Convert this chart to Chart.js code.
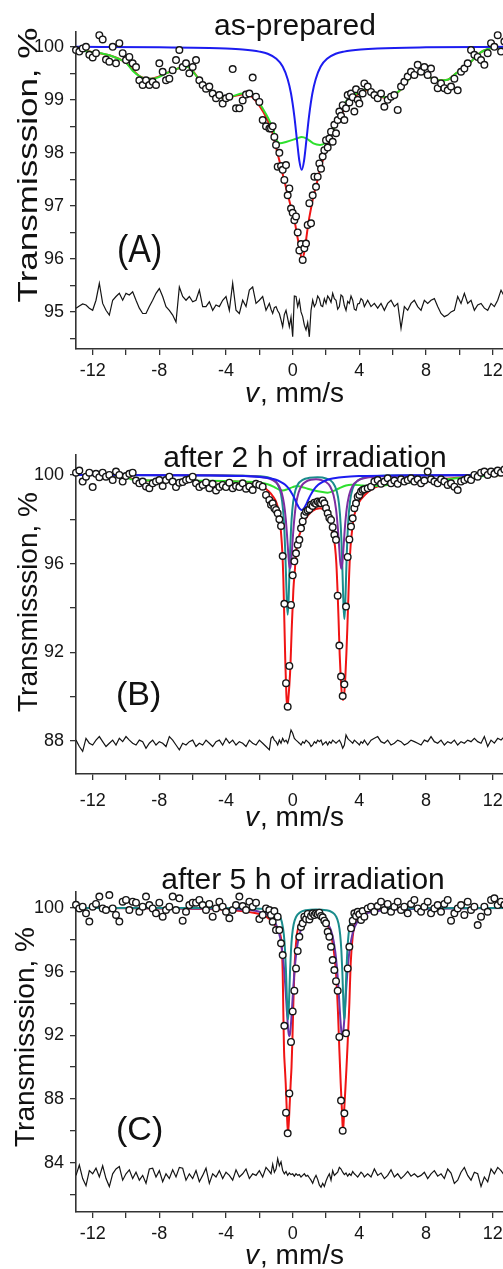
<!DOCTYPE html>
<html><head><meta charset="utf-8">
<script src="https://cdn.jsdelivr.net/npm/chart.js@4.4.1/dist/chart.umd.min.js"></script>
<style>
html,body{margin:0;padding:0;background:#fff;}
#wrap{position:relative;width:503px;height:1269px;overflow:hidden;background:#fff;}
canvas{position:absolute;left:0;}
</style></head><body>
<div id="wrap">
<canvas id="cA" width="540" height="420" style="top:0px"></canvas>
<canvas id="cB" width="540" height="420" style="top:420px"></canvas>
<canvas id="cC" width="540" height="429" style="top:840px"></canvas>
</div>
<script>
// ---- velocity channels (mm/s) ----
const VELOCITY = [
-13,-12.8,-12.6,-12.4,-12.2,-12,-11.8,-11.6,-11.4,-11.2,
-11,-10.8,-10.6,-10.4,-10.2,-10,-9.8,-9.6,-9.4,-9.2,
-9,-8.8,-8.6,-8.4,-8.2,-8,-7.8,-7.6,-7.4,-7.2,
-7,-6.8,-6.6,-6.4,-6.2,-6,-5.8,-5.6,-5.4,-5.2,
-5,-4.8,-4.6,-4.4,-4.2,-4,-3.8,-3.6,-3.4,-3.2,
-3,-2.8,-2.6,-2.4,-2.2,-2,-1.8,-1.6,-1.4,
-1.3,-1.2,-1.1,-1,-0.9,-0.8,-0.7,-0.6,-0.5,-0.4,
-0.3,-0.2,-0.1,0,0.1,0.2,0.3,0.4,0.5,0.6,
0.7,0.8,0.9,1,1.1,1.2,1.3,1.4,1.5,1.6,
1.7,1.8,1.9,2,2.1,2.2,2.3,2.4,2.5,2.6,
2.7,2.8,2.9,3,3.1,3.2,3.3,3.4,3.5,3.6,
3.7,3.8,3.9,4,4.1,4.2,4.3,
4.5,4.7,4.9,5.1,5.3,5.5,5.7,5.9,6.1,6.3,
6.5,6.7,6.9,7.1,7.3,7.5,7.7,7.9,8.1,8.3,
8.5,8.7,8.9,9.1,9.3,9.5,9.7,9.9,10.1,10.3,
10.5,10.7,10.9,11.1,11.3,11.5,11.7,11.9,12.1,12.3,
12.5,12.7,12.9];

// ---- panel A (as-prepared) ----
const TRANS_A = [
99.94,99.91,99.97,100.0,99.85,99.8,99.88,100.22,100.14,99.76,
99.72,100.0,99.69,100.07,99.88,99.75,99.81,99.69,99.62,99.37,
99.28,99.37,99.28,99.34,99.28,99.69,99.53,99.37,99.4,99.56,
99.75,99.94,99.62,99.69,99.5,99.62,99.75,99.37,99.28,99.21,
99.25,99.12,99.03,99.09,98.93,99.03,99.06,99.58,98.84,98.84,
98.99,99.1,99.12,99.42,99.06,98.96,98.62,98.5,98.46,
98.46,98.5,98.3,98.15,97.74,98.0,97.75,97.68,97.49,97.77,
97.2,97.33,96.95,96.87,96.73,96.8,96.5,96.16,96.28,95.98,
96.2,96.29,96.64,97.05,96.67,97.2,97.55,97.36,97.55,97.8,
97.7,97.93,98.05,98.24,98.1,98.27,98.4,98.21,98.53,98.37,
98.62,98.78,98.7,98.9,98.62,98.84,99.09,98.95,99.12,99.05,
98.78,99.2,99.0,98.93,99.15,99.12,99.31,
99.25,99.15,99.09,99.03,99.12,98.87,99.0,99.06,99.09,98.81,
99.25,99.34,99.44,99.53,99.47,99.66,99.53,99.62,99.47,99.59,
99.37,99.22,99.31,99.22,99.18,99.25,99.4,99.18,99.53,99.59,
99.69,99.94,99.85,99.81,99.75,99.66,99.88,100.07,100.0,100.22,
99.91,100.1,99.95];
const RESID_A = [
95.07,95.11,95.15,95.13,95.07,95.03,95.22,95.54,95.16,95.03,
94.94,95.22,95.29,95.35,95.22,95.35,95.32,95.38,95.22,95.07,
94.97,94.97,95.10,95.22,95.35,95.44,95.29,95.10,95.03,94.94,
94.81,95.47,95.29,95.22,95.29,95.19,95.22,95.41,95.10,95.10,
95.19,95.03,95.13,95.10,95.22,95.29,95.03,95.54,95.03,94.97,
95.22,95.10,95.41,95.47,95.16,95.22,95.29,95.03,95.16,
95.05,94.97,95.08,95.10,95.02,94.97,94.85,94.72,94.95,95.03,
94.88,94.72,94.9,94.53,95.3,95.29,95.1,95.22,95.0,94.91,
94.75,94.66,94.8,94.53,95.03,95.22,95.1,95.16,95.3,95.25,
95.12,95.10,95.25,95.16,95.3,95.25,95.18,95.35,95.25,95.22,
95.05,95.10,95.32,95.29,95.12,95.03,95.2,95.16,95.3,95.22,
95.05,95.03,95.15,95.16,95.25,95.22,95.1,
95.22,95.10,95.16,95.07,95.16,95.03,95.16,95.22,95.10,95.16,
94.69,95.10,95.03,95.16,95.22,95.10,95.03,95.22,95.16,95.22,
95.25,95.10,94.97,94.91,94.94,95.0,95.03,95.29,95.16,95.35,
95.16,95.22,95.03,95.13,95.16,95.07,95.03,95.16,95.10,95.22,
95.41,95.29,95.22];
const RED_A_V = [-13,-12,-11,-10,-9.2,-8.5,-7.6,-6.8,-6.3,-5.5,-4.6,-4.0,-3.5,-3.0,-2.46,-1.96,-1.56,-1.26,-1.06,-0.86,-0.66,-0.46,-0.26,-0.06,0.14,0.28,0.44,0.54,0.68,0.8,0.94,1.08,1.24,1.44,1.64,1.88,2.14,2.44,2.74,3.08,3.44,3.84,4.44,5.0,5.5,6.0,6.5,7.0,7.4,7.9,8.4,8.8,9.3,9.8,10.3,10.7,11.2,11.8,12.4,13];
const RED_A_T = [99.95,99.9,99.84,99.7,99.45,99.4,99.5,99.6,99.62,99.34,99.1,99.03,99.07,99.1,99.06,98.87,98.65,98.43,98.18,97.93,97.68,97.42,97.17,96.92,96.67,96.42,96.17,95.99,96.1,96.35,96.67,96.92,97.17,97.42,97.68,97.93,98.18,98.43,98.62,98.81,98.96,99.09,99.18,99.1,99.04,99.07,99.2,99.4,99.5,99.48,99.4,99.37,99.38,99.5,99.62,99.72,99.88,99.97,99.99,99.98];
const GREEN_A_V = [-13,-12.5,-12,-11.5,-11,-10.5,-10,-9.6,-9.2,-8.8,-8.2,-7.6,-7.2,-6.8,-6.3,-5.9,-5.5,-5.0,-4.6,-4.0,-3.5,-3.0,-2.5,-2.2,-1.86,-1.46,-1.16,-0.96,-0.76,-0.36,0.24,0.54,0.84,1.24,1.64,1.94,2.24,2.44,2.64,2.94,3.34,3.84,4.44,5.0,5.5,6.0,6.5,7.0,7.4,7.9,8.4,8.8,9.3,9.8,10.3,10.7,11.2,11.8,12.4,13];
const GREEN_A_T = [99.95,99.92,99.9,99.88,99.84,99.78,99.7,99.55,99.45,99.4,99.41,99.5,99.55,99.6,99.62,99.5,99.34,99.2,99.1,99.03,99.08,99.12,99.12,99.05,98.87,98.65,98.43,98.24,98.18,98.21,98.27,98.3,98.27,98.18,98.15,98.18,98.3,98.43,98.62,98.84,99.02,99.12,99.2,99.12,99.05,99.08,99.2,99.4,99.5,99.48,99.4,99.37,99.38,99.5,99.62,99.72,99.88,99.97,99.99,99.98];
const BLUE_A_V = [-13,-8,-5,-4,-3,-2,-1.5,-1.0,-0.6,-0.3,-0.1,0.1,0.25,0.4,0.54,0.68,0.83,0.98,1.18,1.38,1.68,2.08,2.58,3.08,4.08,5.08,8,13];
const BLUE_A_T = [100.0,99.99,99.98,99.97,99.95,99.91,99.87,99.78,99.63,99.39,99.12,98.69,98.26,97.85,97.68,97.85,98.26,98.69,99.12,99.39,99.63,99.78,99.87,99.91,99.95,99.97,99.99,100.0];

// ---- panel B (after 2 h) ----
const TRANS_B = [
100.1,100.2,99.7,99.92,100.1,99.45,100.05,99.9,100.1,99.92,
100.0,99.77,100.15,100.0,99.7,99.95,100.05,100.1,99.75,99.62,
99.7,99.48,99.4,99.62,99.7,99.77,99.5,99.77,99.92,99.7,
99.45,99.65,99.68,99.77,99.8,99.92,99.62,99.45,99.55,99.66,
99.4,99.6,99.3,99.45,99.55,99.45,99.65,99.4,99.5,99.45,
99.62,99.38,99.48,99.32,99.6,99.55,99.47,99.1,98.87,
98.65,98.72,98.5,98.42,98.27,98.0,97.7,96.34,94.18,90.6,
89.54,91.38,94.13,95.47,96.1,96.46,96.85,97.07,97.59,97.9,
98.19,98.34,98.4,98.45,98.65,98.6,98.75,98.7,98.8,98.75,
98.72,98.85,98.72,98.5,98.27,98.06,97.97,97.64,97.3,97.07,
94.55,92.3,90.9,90.02,90.55,94.06,96.3,97.09,97.67,98.04,
98.5,98.72,99.02,99.1,99.25,99.32,99.35,
99.4,99.47,99.7,99.77,99.6,99.7,99.85,99.62,99.75,99.6,
99.8,99.7,99.77,99.85,99.7,99.8,99.62,99.75,100.15,99.8,
99.7,99.62,99.8,99.7,99.55,99.62,99.47,99.32,99.7,99.77,
99.85,99.77,100.0,99.92,100.1,100.15,100.0,100.15,100.05,100.2,
100.1,100.25,100.1];
const RESID_B = [
88.03,87.74,87.52,88.11,87.89,87.81,88.03,88.19,87.96,87.74,
87.89,88.03,87.81,88.11,87.96,88.19,88.03,87.89,87.81,88.03,
87.96,87.66,87.89,88.03,87.81,87.96,87.89,87.74,88.19,88.03,
87.81,87.59,87.89,87.81,87.96,88.03,87.74,87.89,87.81,88.03,
87.89,87.74,87.96,88.03,87.81,88.11,87.89,88.03,87.81,87.96,
87.89,87.74,88.03,87.89,87.81,88.03,87.89,87.74,87.59,
88.11,88.19,88.03,87.96,87.81,88.03,87.89,88.11,87.96,88.03,
87.89,88.15,88.49,88.34,88.11,88.03,87.96,87.89,87.81,87.96,
87.89,88.03,87.96,87.89,87.74,87.81,87.96,87.89,88.03,87.96,
88.03,87.81,87.89,87.96,87.81,87.96,87.89,88.03,87.96,87.89,
87.96,88.03,87.89,87.66,87.81,88.26,88.11,88.03,87.96,87.89,
88.03,87.96,87.89,87.81,87.96,87.89,88.03,
87.81,88.03,88.11,88.19,87.96,87.89,88.03,87.81,87.89,88.03,
87.96,87.81,87.89,88.03,87.96,87.89,87.81,88.03,87.96,88.19,
87.96,87.89,88.03,87.81,87.96,87.89,88.03,87.81,87.96,87.89,
88.03,87.96,88.11,87.96,87.89,88.19,87.74,88.03,87.89,88.11,
88.03,88.19,88.11];
const RED_B_V = [-13,-11,-10,-9.6,-9,-8,-6,-4,-3,-2.2,-1.8,-1.5,-1.2,-0.96,-0.8,-0.7,-0.62,-0.56,-0.5,-0.44,-0.38,-0.32,-0.26,-0.2,-0.14,-0.06,0.04,0.14,0.24,0.44,0.74,1.14,1.64,2.0,2.24,2.4,2.54,2.62,2.7,2.76,2.82,2.88,2.95,3.02,3.09,3.16,3.22,3.28,3.35,3.44,3.55,3.64,3.8,3.94,4.34,4.84,5.2,6,7,8,9,10,11,12,13];
const RED_B_T = [100,99.97,99.92,99.82,99.76,99.74,99.73,99.72,99.68,99.6,99.48,99.3,99.05,98.72,98.2,97.4,96.5,95.3,93.4,91.5,90.1,89.44,89.9,90.5,91.3,93.0,94.8,95.8,96.76,97.37,97.97,98.35,98.5,98.35,97.97,97.4,96.76,96.0,94.6,93.3,91.9,90.9,90.1,89.84,90.1,90.9,91.9,93.1,94.7,96.4,97.4,97.97,98.45,98.72,99.1,99.4,99.5,99.6,99.68,99.75,99.8,99.88,99.95,99.98,100];
const GREEN_B_V = [-13,-10.5,-10,-9.7,-9,-8,-6,-4,-3,-2,-1.5,-1.1,-0.8,-0.6,-0.3,0,0.25,0.5,0.9,1.3,1.7,2.1,2.4,2.8,3.2,3.5,4,4.5,5,6,7,8,9,10,11,12,13];
const GREEN_B_T = [100,99.97,99.92,99.8,99.76,99.75,99.74,99.73,99.7,99.66,99.58,99.45,99.33,99.3,99.36,99.45,99.5,99.47,99.38,99.3,99.24,99.2,99.26,99.4,99.52,99.56,99.54,99.5,99.5,99.58,99.66,99.72,99.78,99.86,99.93,99.98,100];
const BLUE_B_V = [-13,-8,-5,-3,-2,-1.4,-1.0,-0.7,-0.45,-0.2,0,0.15,0.3,0.42,0.54,0.66,0.78,0.93,1.08,1.28,1.53,1.78,2.08,2.48,3.08,4.08,6.08,9,13];
const BLUE_B_T = [100,99.99,99.98,99.95,99.91,99.85,99.78,99.68,99.56,99.35,99.1,98.87,98.63,98.48,98.42,98.48,98.63,98.87,99.1,99.35,99.56,99.68,99.78,99.85,99.91,99.95,99.98,99.99,100];
const PURPLE_B_V = [-13,-6,-3,-2,-1.4,-1.0,-0.8,-0.65,-0.52,-0.42,-0.34,-0.27,-0.21,-0.16,-0.11,-0.05,0.02,0.1,0.2,0.35,0.55,0.8,1.1,1.4,1.7,2.0,2.25,2.45,2.6,2.7,2.78,2.85,2.92,2.99,3.06,3.14,3.24,3.38,3.6,3.9,4.4,5.5,8,13];
const PURPLE_B_T = [100,99.99,99.96,99.92,99.84,99.67,99.47,99.17,98.69,98.05,97.29,96.51,95.95,95.78,95.95,96.51,97.29,98.03,98.68,99.2,99.53,99.7,99.78,99.8,99.77,99.68,99.48,99.09,98.46,97.69,96.84,96.1,95.77,96.1,96.84,97.69,98.46,99.07,99.51,99.74,99.87,99.95,99.98,100];
const TEAL_B_V = [-13,-5,-2,-1.2,-0.9,-0.7,-0.58,-0.5,-0.44,-0.39,-0.35,-0.3,-0.25,-0.21,-0.16,-0.1,-0.02,0.1,0.3,0.6,1.0,1.5,2.0,2.4,2.65,2.78,2.88,2.96,3.01,3.05,3.1,3.15,3.19,3.24,3.32,3.44,3.6,3.9,4.5,6,13];
const TEAL_B_T = [100,99.99,99.94,99.8,99.57,99.12,98.44,97.53,96.42,95.2,94.25,93.69,94.25,95.2,96.42,97.53,98.44,99.11,99.56,99.78,99.87,99.89,99.84,99.66,99.25,98.68,97.74,96.31,95.05,94.07,93.49,94.07,95.05,96.31,97.74,98.81,99.39,99.74,99.91,99.98,100];

// ---- panel C (after 5 h) ----
const TRANS_C = [
100.2,99.97,100.08,99.66,99.14,100.08,100.25,100.71,99.97,99.87,
100.81,99.97,99.56,99.14,100.39,100.5,99.87,100.39,100.33,99.76,
100.08,100.71,100.18,99.97,99.66,100.33,99.45,99.87,100.08,100.71,
99.87,100.6,99.2,99.76,100.18,100.33,100.33,100.5,100.18,99.87,
100.25,99.45,99.97,100.39,100.08,99.76,99.35,99.87,100.18,100.71,
100.12,99.87,100.39,100.08,100.33,99.3,99.56,99.97,99.87,
99.56,99.13,99.8,98.61,99.45,98.61,97.78,97.04,92.6,87.14,
85.84,88.35,91.58,93.5,94.8,96.2,97.3,98.19,98.8,99.03,
99.45,99.3,99.62,99.28,99.5,99.66,99.55,99.66,99.6,99.7,
99.5,99.41,99.2,99.03,98.5,98.19,97.56,96.73,96.1,95.4,
94.8,91.9,87.9,86.01,87.1,92.12,96.2,97.56,98.72,99.2,
99.66,99.5,99.76,99.6,99.24,99.8,99.45,
99.97,100.08,99.76,100.12,100.39,99.87,100.25,99.76,100.08,100.39,
99.87,100.08,99.66,100.25,100.5,99.97,99.76,100.08,100.39,99.66,
99.97,100.18,99.76,100.25,100.5,99.2,99.66,99.97,100.18,99.56,
100.39,99.87,100.08,98.92,99.45,100.08,99.76,100.5,100.6,100.18,
100.39,100.2,99.97];
const RESID_C = [
83.2,83.85,83.0,82.55,83.5,83.3,83.65,83.1,83.8,83.0,
82.5,83.3,83.6,83.75,82.9,83.3,83.55,83.0,83.4,82.9,
83.2,82.7,83.6,83.65,83.1,83.5,82.8,83.3,83.0,83.55,
83.1,83.7,83.65,82.9,83.3,83.0,83.5,82.8,83.2,83.65,
82.7,83.3,83.1,83.5,83.0,83.4,83.2,82.9,83.55,83.1,
83.3,83.6,83.0,83.3,83.2,83.5,83.1,83.7,83.45,
83.3,83.9,83.4,83.6,84.25,83.8,84.05,83.5,83.3,83.45,
83.2,83.35,83.25,83.3,83.15,83.3,83.2,83.25,83.1,83.2,
83.3,83.15,83.2,83.05,82.9,82.7,83.0,83.2,82.95,82.6,
82.45,82.7,82.5,82.85,83.1,83.3,82.9,83.5,83.2,83.3,
83.4,83.7,83.6,83.4,83.25,83.35,83.15,83.3,83.2,83.45,
83.3,83.2,83.1,83.25,83.4,83.3,83.1,
83.3,83.1,83.6,83.2,83.35,83.0,83.2,83.55,83.1,83.3,
83.0,83.2,83.45,83.15,83.3,83.1,83.2,83.4,83.0,83.3,
83.5,83.15,83.3,83.0,83.6,83.35,82.7,82.9,83.4,83.7,
83.2,82.9,83.4,83.3,82.5,83.1,82.8,83.6,83.3,83.7,
83.5,83.2,83.6];
const RED_C_V = [-13,-8,-4,-2.5,-1.6,-1.2,-0.95,-0.8,-0.7,-0.64,-0.6,-0.56,-0.52,-0.47,-0.42,-0.35,-0.28,-0.2,-0.12,-0.07,-0.02,0.04,0.1,0.24,0.44,0.74,1.1,1.44,1.8,2.0,2.24,2.44,2.6,2.72,2.8,2.88,2.95,3.02,3.09,3.16,3.22,3.28,3.34,3.4,3.48,3.6,3.8,4.14,4.8,6,9,13];
const RED_C_T = [100,99.97,99.88,99.72,99.45,99.1,98.75,98.45,98.1,97.2,96.0,93.4,91.1,90.0,89.0,87.2,85.8,87.2,89.0,90.0,91.6,94.0,96.0,98.2,99.03,99.35,99.45,99.47,99.35,99.13,98.5,97.56,95.88,93.38,91.1,89.0,87.4,85.9,87.3,88.6,89.8,91.1,92.5,94.0,96.5,98.2,99.24,99.66,99.85,99.94,99.98,100];
const PURPLE_C_V = [-13,-6,-3,-2,-1.5,-1.1,-0.85,-0.68,-0.55,-0.45,-0.37,-0.3,-0.25,-0.2,-0.15,-0.08,0.0,0.1,0.22,0.38,0.6,0.9,1.2,1.5,1.8,2.1,2.36,2.55,2.68,2.78,2.86,2.93,2.98,3.03,3.1,3.18,3.28,3.41,3.6,3.9,4.4,5.2,7,13];
const PURPLE_C_T = [99.99,99.97,99.89,99.76,99.56,99.16,98.55,97.7,96.56,95.22,93.89,92.74,92.16,91.94,92.16,93.04,94.38,95.91,97.21,98.21,98.89,99.28,99.43,99.44,99.34,99.03,98.38,97.29,95.92,94.38,93.03,92.15,91.93,92.15,93.03,94.39,95.93,97.32,98.43,99.18,99.62,99.82,99.93,99.99];
const TEAL_C_V = [-13,-5,-2,-1.2,-0.85,-0.65,-0.53,-0.46,-0.4,-0.36,-0.32,-0.28,-0.24,-0.2,-0.16,-0.1,-0.03,0.06,0.2,0.45,0.8,1.4,2.0,2.35,2.6,2.75,2.85,2.92,2.98,3.02,3.06,3.1,3.14,3.18,3.22,3.28,3.35,3.45,3.6,3.95,4.6,6,13];
const TEAL_C_T = [100,99.99,99.95,99.84,99.6,99.12,98.33,97.36,95.97,94.72,93.53,92.99,93.53,94.72,95.97,97.35,98.32,98.97,99.43,99.73,99.86,99.9,99.86,99.74,99.47,99.02,98.31,97.34,95.96,94.7,93.52,92.99,93.52,94.7,95.96,97.34,98.31,99.02,99.48,99.8,99.93,99.98,100];

// ---- axis ticks ----
const X_MIN = -13, X_MAX = 13.5, X_TICK_STEP = 2, X_LABEL_STEP = 4;

const FONT = '"Liberation Sans", Arial, Helvetica, sans-serif';
const COL = {red:'#f01414', green:'#2ee02e', blue:'#1c1cf0', purple:'#7e2ea2', teal:'#1a8c8c', purpleC:'#6a34aa'};

function pts(xs, ys){ const n = Math.min(xs.length, ys.length); const out = []; for (let i = 0; i < n; i++) out.push({x: xs[i], y: ys[i]}); return out; }
function lineDs(xs, ys, color, width, order){ return {type:'line', data: pts(xs, ys), borderColor: color, borderWidth: width, pointRadius: 0, fill: false, cubicInterpolationMode: 'monotone', order: order}; }
function residDs(ys){ return {type:'line', data: pts(VELOCITY, ys), borderColor:'#141414', borderWidth: 1.2, pointRadius: 0, tension: 0, fill: false, order: 8}; }
function scatterDs(ys){ return {type:'line', showLine: false, data: pts(VELOCITY, ys), pointRadius: 3.3, pointBorderWidth: 1.4, pointBorderColor: '#161616', pointBackgroundColor: '#ffffff', order: 0, clip: 6}; }

function textPlugin(o){
  return { id: 'panelText', afterDraw(chart){
    const c = chart.ctx; c.save(); c.fillStyle = '#111'; c.textBaseline = 'alphabetic';
    c.font = '30px ' + FONT; c.textAlign = 'center'; c.fillText(o.title, o.titleX, o.titleY);
    c.save(); c.translate(o.labX, o.labY); c.scale(1, o.labSY); c.font = '34px ' + FONT; c.textAlign = 'left'; c.fillText(o.lab, 0, 0); c.restore();
    c.font = 'italic 28px ' + FONT; const w1 = c.measureText('v').width;
    c.font = '28px ' + FONT; const w2 = c.measureText(', mm/s').width;
    const x0 = o.xtX - (w1 + w2) / 2; c.textAlign = 'left';
    c.font = 'italic 28px ' + FONT; c.fillText('v', x0, o.xtY);
    c.font = '28px ' + FONT; c.fillText(', mm/s', x0 + w1 + 1, o.xtY);
    c.save(); c.translate(o.ytX, o.ytY); c.rotate(-Math.PI / 2); c.scale(o.ytS, 1); c.font = '28px ' + FONT; c.textAlign = 'center'; c.fillText('Transmisssion, %', 0, 0); c.restore();
    c.restore();
  }};
}

function makeChart(id, datasets, o){
  const gridCfg = {display: true, drawOnChartArea: false, drawTicks: true, tickLength: 6, color: '#333', lineWidth: 1.3};
  const borderCfg = {display: true, color: '#333', width: 1.6};
  return new Chart(document.getElementById(id), {
    type: 'line',
    data: {datasets: datasets},
    options: {
      responsive: false, animation: false, devicePixelRatio: 1, events: [],
      layout: {padding: {top: o.padTop, right: 22.3, left: 0, bottom: 0}},
      plugins: {legend: {display: false}, tooltip: {enabled: false}, title: {display: false}},
      scales: {
        x: {type: 'linear', position: 'bottom', min: X_MIN, max: X_MAX,
            afterFit(s){ s.height = o.xH; },
            ticks: {stepSize: X_TICK_STEP, includeBounds: false, autoSkip: false, maxRotation: 0, minRotation: 0, padding: o.xPad, color: '#151515', font: {family: FONT, size: 18},
                    callback: (v) => (Math.abs(v % X_LABEL_STEP) < 1e-6 ? String(v) : '')},
            grid: gridCfg, border: borderCfg},
        y: {type: 'linear', position: 'left', min: o.yMin, max: o.yMax,
            afterFit(s){ s.width = 76; },
            ticks: {stepSize: o.yStep, includeBounds: false, autoSkip: false, padding: 6, color: '#151515', font: {family: FONT, size: 18},
                    callback: (v) => { const q = v / o.yLab; return Math.abs(q - Math.round(q)) < 1e-6 ? String(Math.round(v)) : ''; }},
            grid: gridCfg, border: borderCfg}
      }
    },
    plugins: [textPlugin(o)]
  });
}

makeChart('cA', [
  scatterDs(TRANS_A),
  lineDs(BLUE_A_V, BLUE_A_T, COL.blue, 2, 2),
  lineDs(GREEN_A_V, GREEN_A_T, COL.green, 2, 4),
  lineDs(RED_A_V, RED_A_T, COL.red, 2, 6),
  residDs(RESID_A)
], {padTop: 32, xH: 71, xPad: 5, yMin: 94.3, yMax: 100.28, yStep: 0.5, yLab: 1,
    title: 'as-prepared', titleX: 295, titleY: 35, lab: '(A)', labX: 117, labY: 262, labSY: 1.12,
    xtX: 294, xtY: 402, ytX: 37, ytY: 165, ytS: 1.25});

makeChart('cB', [
  scatterDs(TRANS_B),
  lineDs(BLUE_B_V, BLUE_B_T, COL.blue, 2, 2),
  lineDs(PURPLE_B_V, PURPLE_B_T, COL.purple, 2, 3),
  lineDs(TEAL_B_V, TEAL_B_T, COL.teal, 2, 4),
  lineDs(GREEN_B_V, GREEN_B_T, COL.green, 2, 5),
  lineDs(RED_B_V, RED_B_T, COL.red, 2, 6),
  residDs(RESID_B)
], {padTop: 35, xH: 66, xPad: 10, yMin: 86.5, yMax: 100.9, yStep: 2, yLab: 4,
    title: 'after 2 h of irradiation', titleX: 305, titleY: 47, lab: '(B)', labX: 116, labY: 285, labSY: 1,
    xtX: 294, xtY: 406, ytX: 37, ytY: 182, ytS: 1});

makeChart('cC', [
  scatterDs(TRANS_C),
  lineDs(TEAL_C_V, TEAL_C_T, COL.teal, 2, 3),
  lineDs(PURPLE_C_V, PURPLE_C_T, COL.purpleC, 2, 4),
  lineDs(RED_C_V, RED_C_T, COL.red, 2, 6),
  residDs(RESID_C)
], {padTop: 52, xH: 57, xPad: 5, yMin: 80.9, yMax: 101, yStep: 2, yLab: 4,
    title: 'after 5 h of irradiation', titleX: 303, titleY: 49, lab: '(C)', labX: 116, labY: 300, labSY: 1,
    xtX: 294, xtY: 424, ytX: 34, ytY: 197, ytS: 1});
</script>
</body></html>
